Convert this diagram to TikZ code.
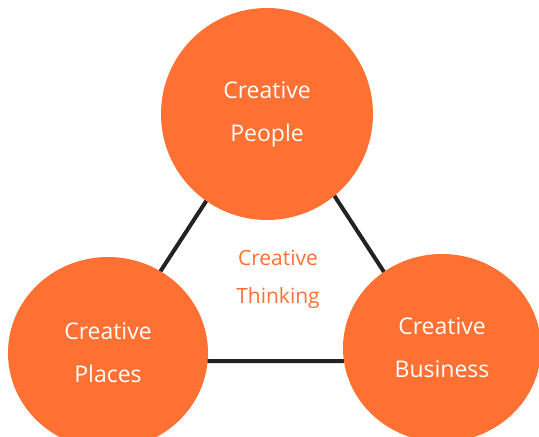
\documentclass[tikz,border=0pt]{standalone}
\usepackage{fontspec}
\setmainfont{Open Sans}
\usetikzlibrary{shapes.geometric}

\definecolor{creaorange}{HTML}{FF7033}
\definecolor{linkgray}{HTML}{222222}

\tikzset{
  bubble/.style={ellipse, fill=creaorange, text=white, align=center,
    inner sep=0pt, font=\fontsize{23}{43}\selectfont},
  link/.style={draw=linkgray, line width=4pt},
  centre/.style={text=creaorange, align=center,
    font=\fontsize{21}{38}\selectfont}
}

\begin{document}
\begin{tikzpicture}[x=1pt,y=-1pt]
  \useasboundingbox (0,0) rectangle (539,437);

  % triangle behind the circles
  \coordinate (apex) at (272,100);
  \coordinate (lcorner) at (102,361);
  \coordinate (rcorner) at (442,361);
  \draw[link] (apex) -- (lcorner) -- (rcorner) -- cycle;

  \node[bubble, minimum width=212pt, minimum height=212pt] (people) at (267,114) {Creative\\People};
  \node[bubble, minimum width=200pt, minimum height=192pt] (places) at (108,353) {Creative\\Places};
  \node[bubble, minimum width=198pt, minimum height=188pt] (business) at (442,348) {Creative\\Business};

  \node[centre] (thinking) at (278,279) {Creative\\Thinking};
\end{tikzpicture}
\end{document}
